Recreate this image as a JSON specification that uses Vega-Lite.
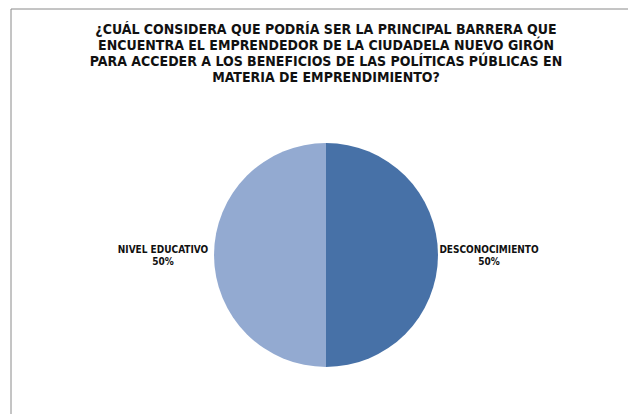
{
  "$schema": "https://vega.github.io/schema/vega-lite/v6.json",
  "width": 628,
  "height": 414,
  "autosize": {"type": "fit", "contains": "padding"},
  "padding": {"left": 10, "top": 8, "right": -14, "bottom": -88},
  "background": "white",
  "title": {
    "text": [
      "¿CUÁL CONSIDERA  QUE  PODRÍA  SER LA PRINCIPAL BARRERA  QUE",
      "ENCUENTRA  EL  EMPRENDEDOR  DE LA CIUDADELA NUEVO  GIRÓN",
      "PARA ACCEDER  A LOS BENEFICIOS  DE LAS POLÍTICAS PÚBLICAS EN",
      "MATERIA DE EMPRENDIMIENTO?"
    ],
    "orient": "top",
    "anchor": "middle",
    "frame": "group",
    "baseline": "bottom",
    "offset": -90,
    "font": "Liberation Sans Narrow, DejaVu Sans Condensed, sans-serif",
    "fontSize": 14,
    "fontWeight": "bold",
    "lineHeight": 16,
    "color": "#111111"
  },
  "layer": [
    {
      "data": {"values": [{"marco": 1}]},
      "mark": {"type": "rect", "x": 0, "x2": "width", "y": 0, "y2": "height", "fill": null, "stroke": "#8a8a8a", "strokeWidth": 1},
      "encoding": {}
    },
    {
      "data": {
        "values": [
          {"categoria": "DESCONOCIMIENTO", "porcentaje": 50, "orden": 1, "etiqueta": "DESCONOCIMIENTO\n50%"},
          {"categoria": "NIVEL EDUCATIVO", "porcentaje": 50, "orden": 2, "etiqueta": "NIVEL EDUCATIVO\n50%"}
        ]
      },
      "encoding": {
        "theta": {"field": "porcentaje", "type": "quantitative", "stack": true},
        "order": {"field": "orden", "type": "quantitative"}
      },
      "layer": [
        {
          "mark": {"type": "arc", "outerRadius": 112},
          "encoding": {
            "color": {
              "field": "categoria",
              "type": "nominal",
              "scale": {"domain": ["DESCONOCIMIENTO", "NIVEL EDUCATIVO"], "range": ["#4771A7", "#93AAD1"]},
              "legend": null
            }
          }
        },
        {
          "mark": {
            "type": "text",
            "radius": 163,
            "dy": -5,
            "align": "center",
            "baseline": "middle",
            "lineBreak": "\n",
            "lineHeight": 12,
            "font": "Liberation Sans Narrow, DejaVu Sans Condensed, sans-serif",
            "fontSize": 10,
            "fontWeight": "bold",
            "color": "#111111"
          },
          "encoding": {"text": {"field": "etiqueta", "type": "nominal"}}
        }
      ]
    }
  ]
}
